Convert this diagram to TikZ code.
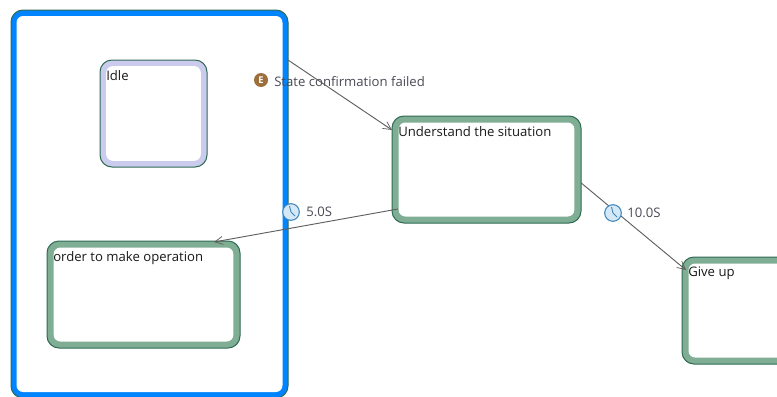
\documentclass[tikz,border=0pt]{standalone}
\usepackage{fontspec}
\setmainfont{Open Sans}
\usetikzlibrary{calc,arrows.meta}
\definecolor{bandblue}{HTML}{0084FF}
\definecolor{bandgreen}{HTML}{7FAE94}
\definecolor{bandlilac}{HTML}{CBCBEE}
\definecolor{rimdark}{HTML}{2F6B55}
\definecolor{edgegray}{HTML}{606060}
\definecolor{labelgray}{HTML}{4A4A55}
\definecolor{eventbrown}{HTML}{9C6F3C}
\definecolor{clockfill}{HTML}{D4E8F5}
\definecolor{clockrim}{HTML}{3F88BF}
\tikzset{
  frame/.style={rectangle,draw=rimdark,line width=0.75pt,rounded corners=9pt,inner sep=0pt,outer sep=0pt},
  hole/.style={rectangle,fill=white,rounded corners=5pt,inner sep=0pt,outer sep=0pt},
  statetext/.style={anchor=north west,inner sep=0pt,font=\fontsize{9.85pt}{11pt}\selectfont,text=black!90},
  edgetext/.style={anchor=west,inner sep=0pt,font=\fontsize{9.85pt}{11pt}\selectfont,text=labelgray},
  conn/.style={draw=edgegray,line width=0.7pt,-{Straight Barb[length=6pt,width=6pt,line width=0.55pt]}},
  clockicon/.style={circle,draw=clockrim,fill=clockfill,line width=0.8pt,minimum size=12.5pt,inner sep=0pt},
  clockhand/.style={draw=clockrim,line width=0.7pt},
  eventicon/.style={circle,fill=eventbrown,minimum size=10.5pt,inner sep=0pt,text=white,font=\fontsize{7pt}{7pt}\bfseries\selectfont}
}
\begin{document}
\begin{tikzpicture}[x=0.75pt,y=-0.75pt]
\useasboundingbox (0,0) rectangle (777,396);
\clip (0,0) rectangle (777,396);
\fill[white] (0,0) rectangle (777,396);
% composite state
\node[frame,fill=bandblue,minimum width=207.75pt,minimum height=291pt] (outer) at (149.5,204) {};
\node[hole,minimum width=199.5pt,minimum height=282pt] (outerin) at (149.5,204) {};
% Idle
\node[frame,fill=bandlilac,minimum width=80.25pt,minimum height=80.25pt] (idle) at (153.5,113.5) {};
\node[hole,minimum width=71pt,minimum height=71pt] (idlein) at (153.5,113.5) {};
\node[statetext] (idlet) at (106,70) {Idle};
% order
\node[frame,fill=bandgreen,minimum width=144.75pt,minimum height=80.25pt] (order) at (143.5,294.5) {};
\node[hole,minimum width=134.75pt,minimum height=70.5pt] (orderin) at (143.5,294.5) {};
\node[statetext] (ordert) at (53,251) {order to make operation};
% Understand
\node[frame,fill=bandgreen,minimum width=141.75pt,minimum height=80.25pt] (under) at (486.5,169.5) {};
\node[hole,minimum width=131.75pt,minimum height=70.5pt] (underin) at (486.5,169.5) {};
\node[statetext] (undert) at (398,126) {Understand the situation};
% Give up
\node[frame,fill=bandgreen,minimum width=81pt,minimum height=80.25pt] (give) at (736,310.5) {};
\node[hole,minimum width=71.25pt,minimum height=70.5pt] (givein) at (736,310.5) {};
\node[statetext] (givet) at (688,267) {Give up};
% edge labels
\node[eventicon] (ev) at (261,80) {E};
\node[edgetext] (evt) at (274,82) {State confirmation failed};
\node[edgetext] (t5) at (306,212) {5.0S};
\node[edgetext] (t10) at (627,213) {10.0S};
% connectors
\draw[conn] ([yshift=-37.5pt]outer.north east) -- ([yshift=-10.5pt]under.north west);
\draw[conn] ([shift={(4.5pt,10.5pt)}]under.south west) -- ([shift={(-19.5pt,-0.75pt)}]order.north east);
\draw[conn] ([yshift=-10pt]under.east) -- ([shift={(3pt,-9.75pt)}]give.north west);
% clocks
\node[clockicon] (c5) at (291,212) {};
\draw[clockhand] (c5.center) -- ++(-1.5,-6) (c5.center) -- ++(4,4);
\node[clockicon] (c10) at (613,213) {};
\draw[clockhand] (c10.center) -- ++(-1.5,-6) (c10.center) -- ++(4,4);
\end{tikzpicture}
\end{document}
